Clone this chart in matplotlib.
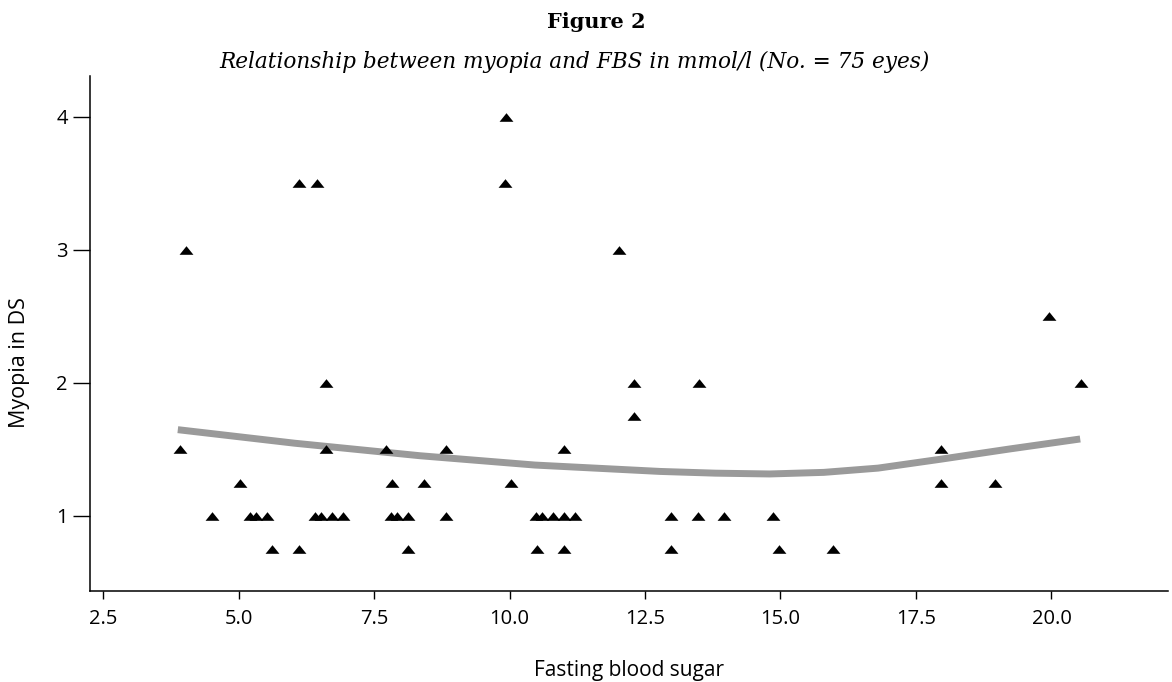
import matplotlib.pyplot as plt

# Fasting blood sugar (mmol/l) and myopia (DS)
fbs = [3.92, 4.03, 4.51, 5.03, 5.21, 5.32, 5.53, 5.62, 6.12, 6.12,
       6.45, 6.61, 6.61, 6.41, 6.52, 6.73, 6.93, 7.72, 7.83, 8.42,
       7.81, 7.92, 8.13, 8.13, 8.83, 8.83, 9.94, 9.92, 12.02, 12.30,
       12.30, 13.50, 11.01, 10.03, 10.49, 10.60, 10.80, 11.01, 11.21, 12.98,
       13.48, 13.96, 14.86, 10.51, 11.01, 12.98, 14.97, 19.95, 20.54, 17.96,
       17.96, 18.96, 15.97]
myopia = [1.5, 3.0, 1.0, 1.25, 1.0, 1.0, 1.0, 0.75, 0.75, 3.5,
          3.5, 2.0, 1.5, 1.0, 1.0, 1.0, 1.0, 1.5, 1.25, 1.25,
          1.0, 1.0, 1.0, 0.75, 1.5, 1.0, 4.0, 3.5, 3.0, 2.0,
          1.75, 2.0, 1.5, 1.25, 1.0, 1.0, 1.0, 1.0, 1.0, 1.0,
          1.0, 1.0, 1.0, 0.75, 0.75, 0.75, 0.75, 2.5, 2.0, 1.5,
          1.25, 1.25, 0.75]

# fitted curve
curve_x = [3.88, 6.04, 8.35, 10.47, 12.78, 13.80, 14.80, 15.80, 16.80, 17.94, 19.23, 20.53]
curve_y = [1.649, 1.547, 1.453, 1.383, 1.335, 1.322, 1.316, 1.328, 1.36, 1.426, 1.504, 1.579]

x_ticks = [2.5, 5.0, 7.5, 10.0, 12.5, 15.0, 17.5, 20.0]
y_ticks = [1, 2, 3, 4]

sans = ['Open Sans', 'DejaVu Sans']

fig = plt.figure(figsize=(11.72, 6.82), dpi=100)
ax = fig.add_axes([0.0768, 0.1334, 0.9198, 0.7552])

# flat triangle marker like the printed one
tri = [(-1, -0.62), (1, -0.62), (0, 0.62), (-1, -0.62)]

ax.plot(curve_x, curve_y, color='#9a9a9a', linewidth=5, solid_capstyle='butt', zorder=2)
ax.scatter(fbs, myopia, marker=tri, s=100, color='black', linewidths=0, zorder=3)

ax.set_xlim(2.26, 22.15)
ax.set_ylim(0.436, 4.308)

ax.set_xticks(x_ticks)
ax.set_xticklabels([f'{t:.1f}' for t in x_ticks], fontsize=14.5, family=sans)
ax.set_yticks(y_ticks)
ax.set_yticklabels([str(t) for t in y_ticks], fontsize=14.5, family=sans)
ax.tick_params(axis='x', length=6, width=1, pad=7)
ax.tick_params(axis='y', length=12, width=1, pad=4)

ax.spines['top'].set_visible(False)
ax.spines['right'].set_visible(False)
ax.spines['left'].set_linewidth(1.1)
ax.spines['bottom'].set_linewidth(1.1)

ax.set_xlabel('Fasting blood sugar', fontsize=15, family=sans, va='center')
ax.xaxis.set_label_coords(0.5, -0.1534)
ax.set_ylabel('Myopia in DS', fontsize=15.5, family=sans, va='center')
ax.yaxis.set_label_coords(-0.065, 0.443)

fig.text(0.509, 0.968, 'Figure 2', ha='center', va='center',
         fontsize=15, fontweight='bold', family='DejaVu Serif')
fig.text(0.4906, 0.909, 'Relationship between myopia and FBS in mmol/l (No. = 75 eyes)',
         ha='center', va='center', fontsize=15.6, style='italic', family='DejaVu Serif')

plt.savefig('out.png', dpi=100)
